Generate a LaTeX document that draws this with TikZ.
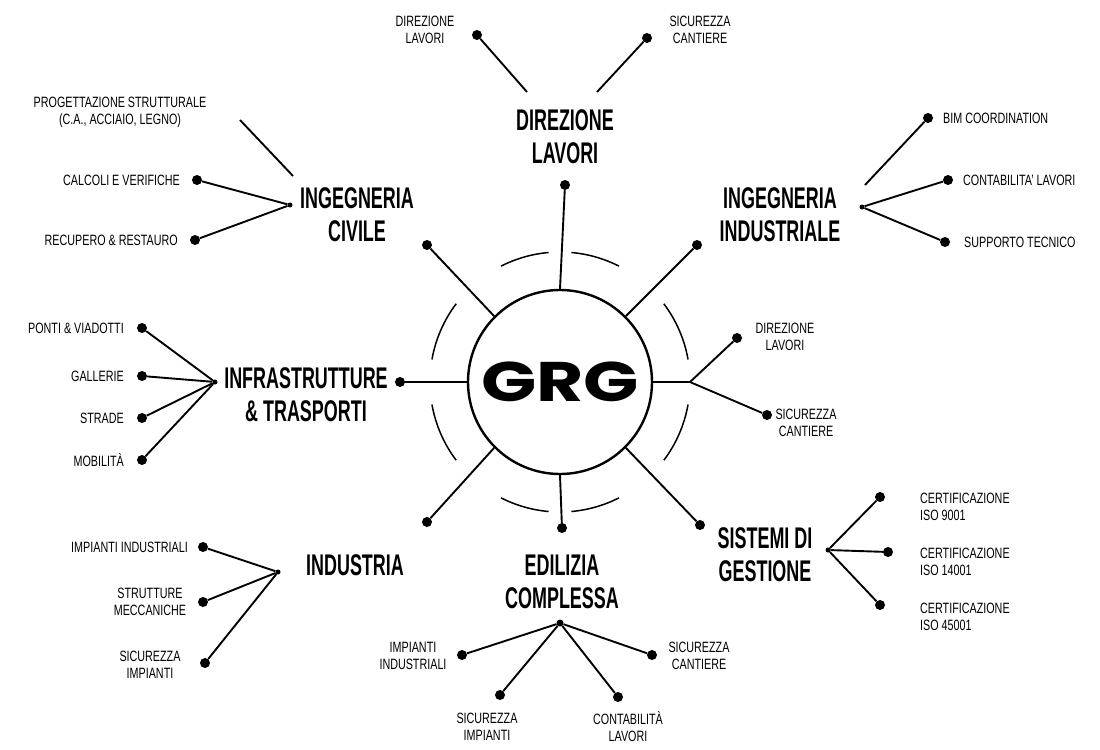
\documentclass[tikz,border=0pt]{standalone}
\usepackage{fontspec}
\setmainfont{Liberation Sans}[FakeStretch=0.72]
\newfontfamily\bigfont{Liberation Sans}[FakeStretch=0.6]
\newfontfamily\grgfont{Poppins}[FakeStretch=1.3]
\begin{document}
\begin{tikzpicture}[x=1bp,y=-1bp,
  ln/.style={line width=1.9pt,black},
  dotn/.style={circle,fill=black,inner sep=0pt,minimum size=10bp},
  hubn/.style={circle,fill=black,inner sep=0pt,minimum size=5bp},
  big/.style={font=\bigfont\fontsize{30}{33}\selectfont\bfseries,align=center,inner sep=0pt},
  sm/.style={font=\fontsize{15}{17}\selectfont,align=center,inner sep=0pt},
  smr/.style={sm,anchor=west},
  sml/.style={sm,anchor=east},
  arc/.style={line width=1.5pt}]
\useasboundingbox (0,0) rectangle (1100,750);
\fill[white] (0,0) rectangle (1100,750);
\node[circle,draw,line width=2.4pt,minimum size=184bp,fill=white,inner sep=0pt] (C) at (560,382) {};
\node[font=\grgfont\fontsize{56}{56}\selectfont\bfseries] (grg) at (560,382) {GRG};
\foreach \a/\b in {95/117,63/85,143/170,190/217,243/265,275/297,323/350,10/37}
  \draw[arc] (560,382) ++(\a:130bp) arc[start angle=\a,end angle=\b,radius=130bp];
% top
\node[dotn] (t) at (565,185) {};
\draw[ln] (C.north) -- (t);
\node[big] (tl) at (565,137) {DIREZIONE\\LAVORI};
\coordinate (t1) at (527,92); \coordinate (t2) at (597,92);
\node[dotn] (td1) at (477,35) {}; \node[dotn] (td2) at (647,38) {};
\draw[ln] (t1) -- (td1); \draw[ln] (t2) -- (td2);
\node[sm] at (425,30) {DIREZIONE\\LAVORI};
\node[sm] at (700,30) {SICUREZZA\\CANTIERE};
% upper left
\node[dotn] (ul) at (427,245) {};
\draw[ln] (ul) -- (C.135);
\node[big] at (357,215) {INGEGNERIA\\CIVILE};
\node[hubn] (ulh) at (290,205) {};
\node[dotn] (uld1) at (197,180) {}; \node[dotn] (uld2) at (195,240) {};
\coordinate (ulp1) at (293,176); \coordinate (ulp2) at (240,120);
\draw[ln] (ulh) -- (uld1); \draw[ln] (ulh) -- (uld2); \draw[ln] (ulp1) -- (ulp2);
\node[sml] at (180,180) {CALCOLI E VERIFICHE};
\node[sml] at (178,240) {RECUPERO \& RESTAURO};
\node[sm] at (120,112) {PROGETTAZIONE STRUTTURALE\\(C.A., ACCIAIO, LEGNO)};
% upper right
\node[dotn] (ur) at (697,245) {};
\draw[ln] (ur) -- (C.45);
\node[big] at (780,215) {INGEGNERIA\\INDUSTRIALE};
\node[hubn] (urh) at (862,207) {};
\node[dotn] (urd1) at (948,180) {}; \node[dotn] (urd2) at (945,242) {};
\node[dotn] (urd0) at (928,118) {}; \coordinate (urp) at (865,185);
\draw[ln] (urh) -- (urd1); \draw[ln] (urh) -- (urd2); \draw[ln] (urp) -- (urd0);
\node[smr] at (943,118) {BIM COORDINATION};
\node[smr] at (963,180) {CONTABILITA' LAVORI};
\node[smr] at (964,242) {SUPPORTO TECNICO};
% left
\node[dotn] (l) at (400,382) {};
\draw[ln] (l) -- (C.west);
\node[big] at (306,395) {INFRASTRUTTURE\\\& TRASPORTI};
\node[hubn] (lh) at (215,382) {};
\foreach \y/\t [count=\i] in {328/PONTI \& VIADOTTI,376/GALLERIE,418/STRADE,460/MOBILITÀ}{
  \node[dotn] (ld\i) at (142,\y) {};
  \draw[ln] (lh) -- (ld\i);
  \node[sml] at (124,\y) {\t};}
% right
\coordinate (rh) at (690,382);
\draw[ln] (C.east) -- (rh);
\node[dotn] (rd1) at (737,338) {}; \node[dotn] (rd2) at (767,415) {};
\draw[ln] (rh) -- (rd1); \draw[ln] (rh) -- (rd2);
\node[sm] at (785,337) {DIREZIONE\\LAVORI};
\node[sm] at (806,423) {SICUREZZA\\CANTIERE};
% lower left
\node[dotn] (ll) at (427,522) {};
\draw[ln] (ll) -- (C.225);
\node[big] at (355,565) {INDUSTRIA};
\node[hubn] (llh) at (278,572) {};
\node[dotn] (lld1) at (203,547) {}; \node[dotn] (lld2) at (203,602) {}; \node[dotn] (lld3) at (205,663) {};
\draw[ln] (llh) -- (lld1); \draw[ln] (llh) -- (lld2); \draw[ln] (llh) -- (lld3);
\node[sml] at (188,547) {IMPIANTI INDUSTRIALI};
\node[sm] at (150,602) {STRUTTURE\\MECCANICHE};
\node[sm] at (150,665) {SICUREZZA\\IMPIANTI};
% bottom
\node[dotn] (b) at (562,528) {};
\draw[ln] (C.south) -- (b);
\node[big] at (562,582) {EDILIZIA\\COMPLESSA};
\node[dotn,minimum size=7bp] (bh) at (560,623) {};
\node[dotn] (bd1) at (462,655) {}; \node[dotn] (bd2) at (500,695) {};
\node[dotn] (bd3) at (618,697) {}; \node[dotn] (bd4) at (652,655) {};
\foreach \i in {1,...,4} \draw[ln] (bh) -- (bd\i);
\node[sm] at (413,656) {IMPIANTI\\INDUSTRIALI};
\node[sm] at (487,727) {SICUREZZA\\IMPIANTI};
\node[sm] at (628,727) {CONTABILITÀ\\LAVORI};
\node[sm] at (699,656) {SICUREZZA\\CANTIERE};
% lower right
\node[dotn] (lr) at (700,525) {};
\draw[ln] (lr) -- (C.-45);
\node[big] at (765,555) {SISTEMI DI\\GESTIONE};
\node[hubn] (lrh) at (828,550) {};
\node[dotn] (lrd1) at (880,497) {}; \node[dotn] (lrd2) at (888,552) {}; \node[dotn] (lrd3) at (880,605) {};
\foreach \i in {1,2,3} \draw[ln] (lrh) -- (lrd\i);
\node[sm,align=left,anchor=west] at (920,507) {CERTIFICAZIONE\\ISO 9001};
\node[sm,align=left,anchor=west] at (920,562) {CERTIFICAZIONE\\ISO 14001};
\node[sm,align=left,anchor=west] at (920,617) {CERTIFICAZIONE\\ISO 45001};
\end{tikzpicture}
\end{document}
